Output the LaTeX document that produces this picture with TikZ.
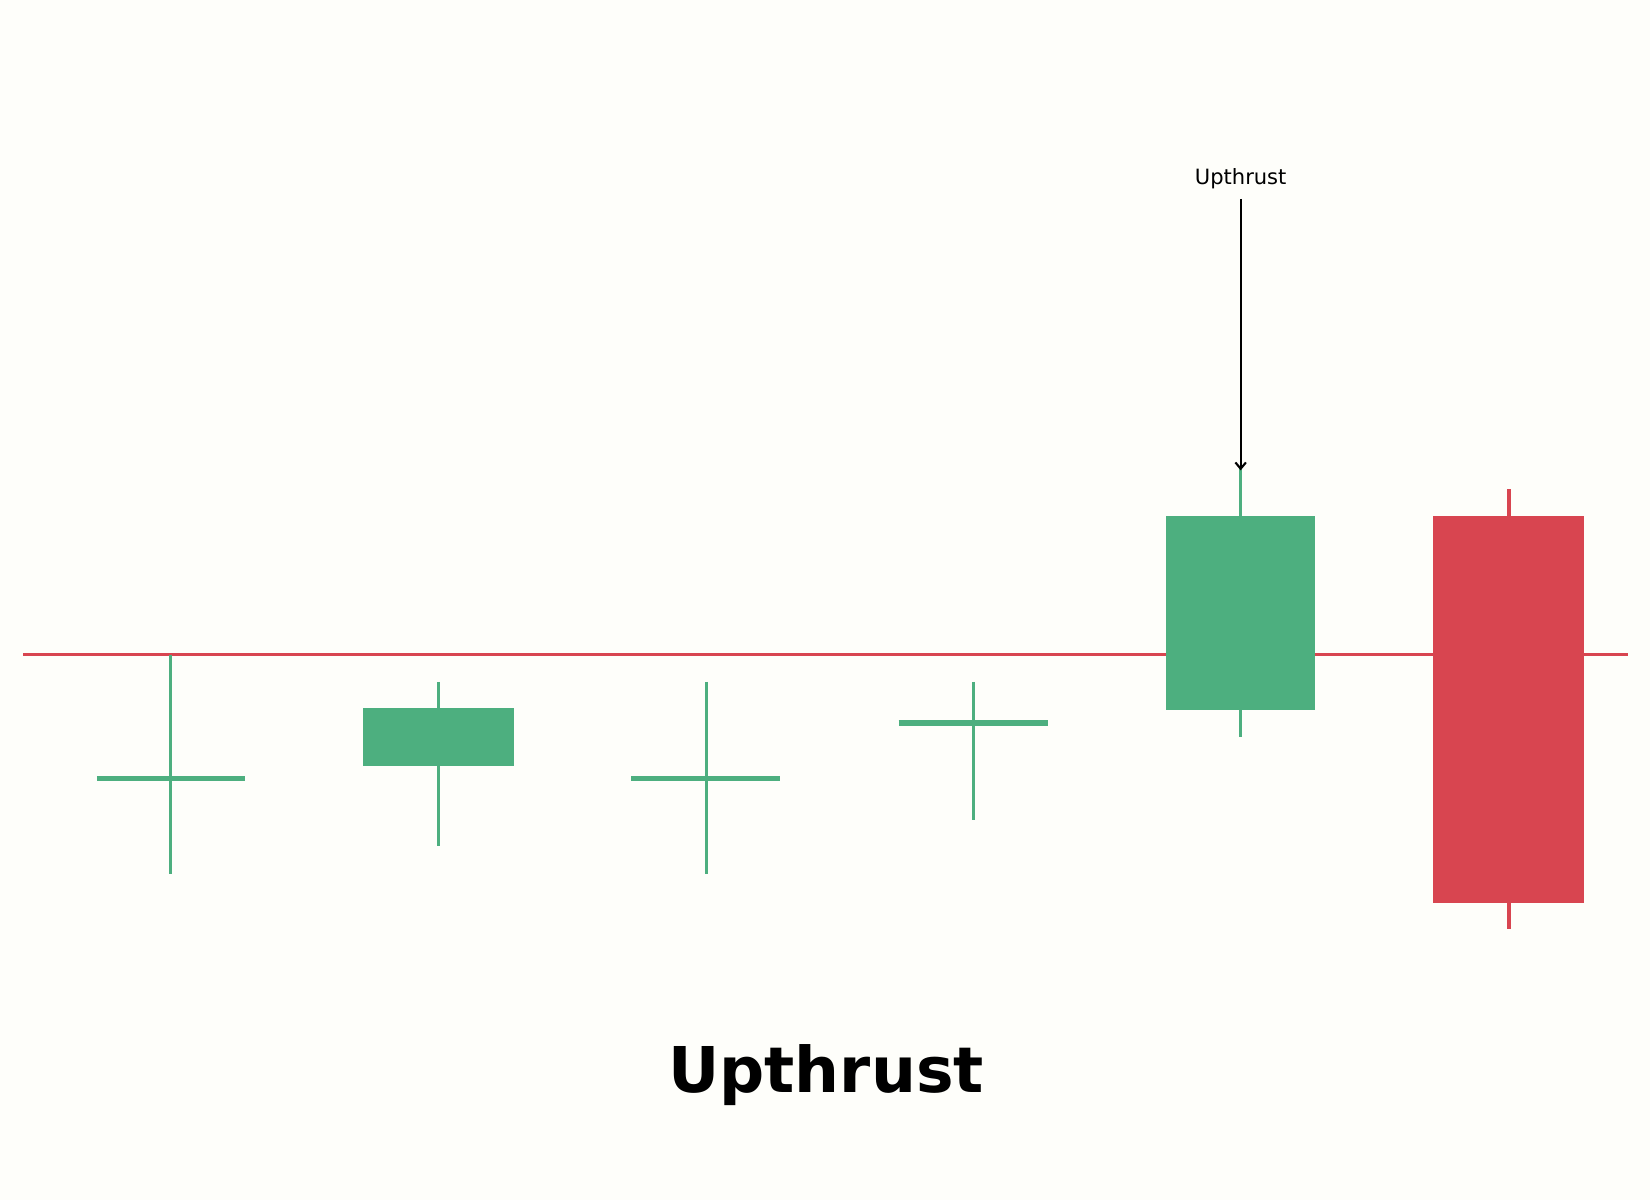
\documentclass[tikz,border=0pt]{standalone}
\usepackage{fontspec}
\setmainfont{DejaVu Sans}
\usetikzlibrary{arrows.meta}
\definecolor{bg}{HTML}{FEFEFA}
\definecolor{up}{HTML}{4DAF7F}
\definecolor{dn}{HTML}{D84550}
\begin{document}
\begin{tikzpicture}[x=1pt,y=-1pt,
  wick/.style={line width=3pt},
  hbar/.style={line width=5pt},
  lbl/.style={inner sep=0pt,font=\fontsize{20}{24}\selectfont}]
\fill[bg] (0,0) rectangle (1568,1140);
\useasboundingbox (0,0) rectangle (1568,1140);
\draw[dn,line width=2.5pt] (22,622) -- (1547,622);
% candle 1
\draw[up,wick] (162,622) -- (162,831);
\draw[up,hbar] (92,740) -- (233,740);
% candle 2
\draw[up,wick] (417,648) -- (417,804);
\fill[up] (345,673) rectangle (488,728);
% candle 3
\draw[up,wick] (671,648) -- (671,831);
\draw[up,hbar] (600,740) -- (741,740);
% candle 4
\draw[up,wick] (925,648) -- (925,779);
\draw[up,hbar] (854,687) -- (996,687);
% candle 5
\draw[up,wick] (1179,445) -- (1179,700);
\fill[up] (1108,490) rectangle (1250,675);
% candle 6
\draw[dn,wick] (1434,465) -- (1434,883);
\fill[dn] (1362,490) rectangle (1505,858);
% annotation
\node[lbl] (u) at (1179,170) {Upthrust};
\coordinate (tip) at (1179,447);
\draw[line width=2pt,-{Straight Barb[length=6pt,width=10pt]}] ([yshift=-9pt]u.south) -- (tip);
\node[inner sep=0pt,font=\fontsize{60}{70}\selectfont\bfseries] (t) at (785,1022) {Upthrust};
\end{tikzpicture}
\end{document}
